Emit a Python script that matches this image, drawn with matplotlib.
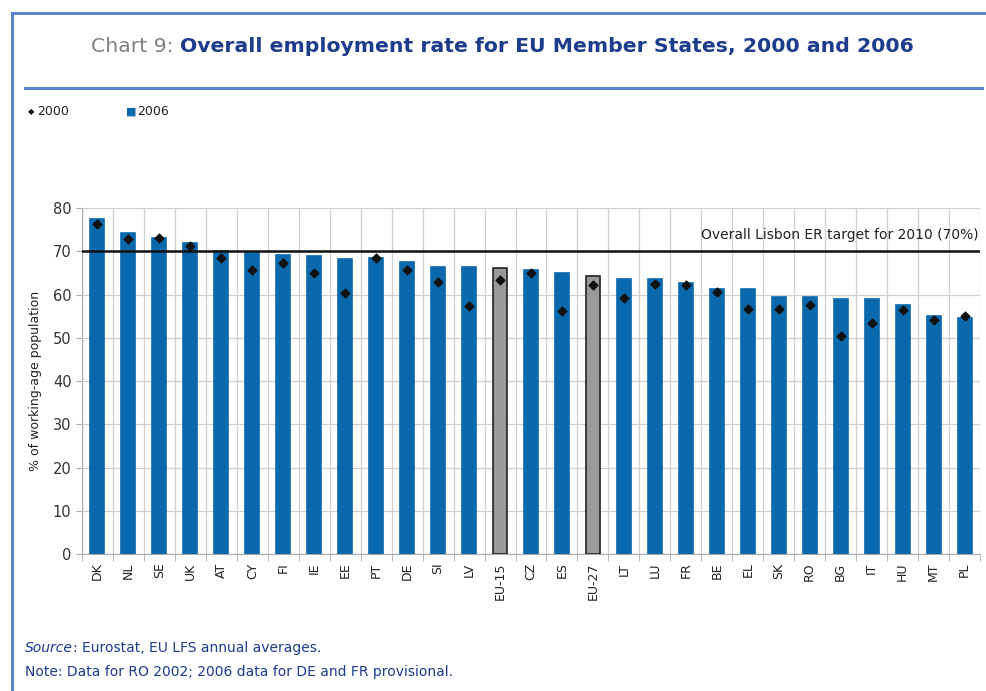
import matplotlib.pyplot as plt
from matplotlib import font_manager
import numpy as np

countries = ['DK', 'NL', 'SE', 'UK', 'AT', 'CY', 'FI', 'IE', 'EE', 'PT', 'DE', 'SI', 'LV',
             'EU-15', 'CZ', 'ES', 'EU-27', 'LT', 'LU', 'FR', 'BE', 'EL', 'SK', 'RO', 'BG',
             'IT', 'HU', 'MT', 'PL']
rate_2006 = [77.4, 74.3, 73.1, 72.0, 70.1, 69.5, 69.2, 69.0, 68.1, 68.4, 67.6, 66.4, 66.4,
             66.2, 65.7, 65.0, 64.3, 63.7, 63.7, 62.6, 61.3, 61.3, 59.5, 59.5, 58.9,
             58.9, 57.6, 55.1, 54.6]
rate_2000 = [76.3, 72.8, 73.0, 71.2, 68.4, 65.7, 67.2, 65.0, 60.3, 68.4, 65.7, 62.8, 57.3,
             63.4, 65.0, 56.3, 62.2, 59.1, 62.4, 62.2, 60.5, 56.6, 56.6, 57.6, 50.4,
             53.5, 56.4, 54.1, 55.0]
target = 70

blue = '#0a68ad'
grey = '#9a9a9a'
text_blue = '#1d3c8c'
frame_blue = '#5b86c8'

installed = {f.name for f in font_manager.fontManager.ttflist}
narrow = 'Liberation Sans Narrow' if 'Liberation Sans Narrow' in installed else 'DejaVu Sans'

fig = plt.figure(figsize=(9.87, 6.91), dpi=100)
ax = fig.add_axes([0.083, 0.198, 0.910, 0.501])

x = np.arange(len(countries))
colors = [grey if c.startswith('EU') else blue for c in countries]
edges = ['#222222' if c.startswith('EU') else blue for c in countries]
ax.bar(x, rate_2006, width=0.45, color=colors, edgecolor=edges, linewidth=1.2, zorder=3)
ax.scatter(x, rate_2000, marker='D', s=20, color='#111111', zorder=4)
ax.axhline(target, color='#111111', linewidth=1.8, zorder=5)
ax.text(len(countries) - 0.55, target + 2.2, 'Overall Lisbon ER target for 2010 (70%)',
        ha='right', va='bottom', fontsize=10, color='#222222')

ax.set_xlim(-0.5, len(countries) - 0.5)
ax.set_ylim(0, 80)
ax.set_yticks(np.arange(0, 81, 10))
ax.set_xticks(x)
ax.set_xticklabels(countries, rotation=90, fontsize=9, color='#222222')
ax.set_xticks(np.arange(-0.5, len(countries), 1), minor=True)
ax.tick_params(axis='x', which='major', length=0, pad=6)
ax.tick_params(axis='x', which='minor', length=5, color='#aaaaaa')
ax.tick_params(axis='y', length=4, color='#aaaaaa', labelsize=10.5, labelcolor='#333333')
ax.grid(axis='y', color='#cfcfcf', linewidth=0.9, zorder=0)
ax.grid(axis='x', which='minor', color='#cfcfcf', linewidth=0.9, zorder=0)
for s in ['top', 'right']:
    ax.spines[s].set_visible(False)
for s in ['left', 'bottom']:
    ax.spines[s].set_color('#aaaaaa')
ax.set_ylabel('% of working-age population', fontsize=9, color='#222222', labelpad=8)

# frame and title
fig.add_artist(plt.Line2D([0.012, 0.012], [0.0, 0.981], color=frame_blue, linewidth=2.2))
fig.add_artist(plt.Line2D([0.012, 1.0], [0.981, 0.981], color=frame_blue, linewidth=2.2))
fig.add_artist(plt.Line2D([0.025, 0.995], [0.873, 0.873], color=frame_blue, linewidth=2.2))

t1 = fig.text(0.092, 0.932, 'Chart 9: ', fontsize=18, family=narrow, color='#808080',
              ha='left', va='center')
t2 = fig.text(0, 0, 'Overall employment rate for EU Member States, 2000 and 2006',
              fontsize=18, family=narrow, color=text_blue, fontweight='bold',
              ha='left', va='center')
# fit title between x=90 and x=915 px
fig.canvas.draw()
r = fig.canvas.get_renderer()
w = t1.get_window_extent(r).width + t2.get_window_extent(r).width
scale = 825 / w
t1.set_fontsize(18 * scale)
t2.set_fontsize(18 * scale)
fig.canvas.draw()
w1 = t1.get_window_extent(r).width
t2.set_position((0.092 + w1 / fig.bbox.width, 0.932))

# legend
fig.text(0.028, 0.838, '\u25c6', fontsize=6, color='#111111', va='center')
fig.text(0.038, 0.838, '2000', fontsize=9, color='#222222', va='center')
fig.text(0.128, 0.838, '\u25a0', fontsize=8, color=blue, va='center')
fig.text(0.139, 0.838, '2006', fontsize=9, color='#222222', va='center')

# footnotes
s1 = fig.text(0.025, 0.062, 'Source', fontsize=10, color=text_blue, style='italic',
              va='center')
fig.canvas.draw()
sw = s1.get_window_extent(r).width / fig.bbox.width
fig.text(0.025 + sw, 0.062, ': Eurostat, EU LFS annual averages.', fontsize=10,
         color=text_blue, va='center')
fig.text(0.025, 0.027, 'Note: Data for RO 2002; 2006 data for DE and FR provisional.',
         fontsize=10, color=text_blue, va='center')

fig.savefig('out.png', dpi=100)
